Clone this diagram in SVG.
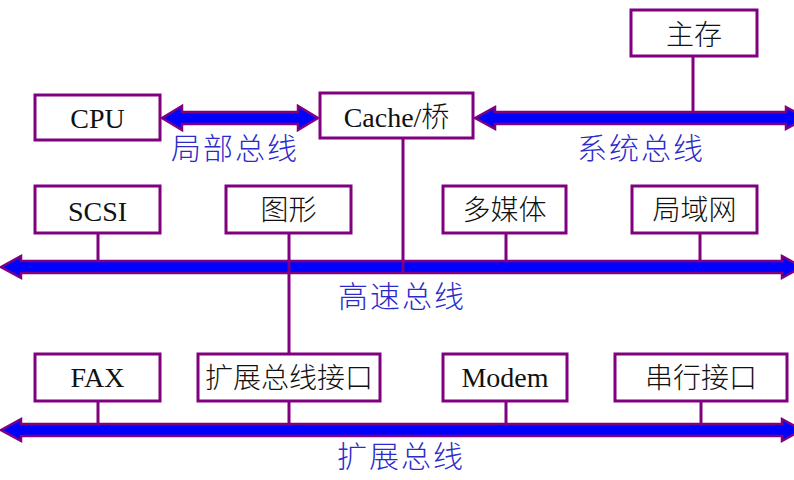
<svg xmlns="http://www.w3.org/2000/svg" width="794" height="480" viewBox="0 0 794 480">
<style>
.box{fill:#fff;stroke:#800080;stroke-width:3}
.t{font-family:"Liberation Serif","Noto Sans CJK SC",serif;font-size:28px;font-weight:300;fill:#111;text-anchor:middle}
.bus{fill:#0000ff;stroke:#800080;stroke-width:2.5;stroke-linejoin:miter}
.ln{stroke:#800080;stroke-width:3;fill:none}
.lbl{font-family:"Noto Sans CJK SC","Noto Sans",sans-serif;font-size:30px;font-weight:300;fill:#2b2bcc;text-anchor:middle;letter-spacing:2px}
</style>
<rect width="794" height="480" fill="#fff"/>
<g id="connectors">
<polygon class="bus" points="162,118 182,106 182,112 298,112 298,106 318,118 298,130 298,124 182,124 182,130"/>
<polygon class="bus" points="475,118 495,107 495,112 786,112 786,107 806,118 786,129 786,124 495,124 495,129"/>
<polygon class="bus" points="1,267 21,256 21,261 782,261 782,256 802,267 782,278 782,273 21,273 21,278"/>
<polygon class="bus" points="1,430 21,419 21,424 782,424 782,419 802,430 782,441 782,436 21,436 21,441"/>
<line class="ln" x1="693" y1="56" x2="693" y2="112"/>
<line class="ln" x1="403" y1="138" x2="403" y2="273"/>
<line class="ln" x1="98" y1="233" x2="98" y2="261"/>
<line class="ln" x1="289" y1="233" x2="289" y2="354"/>
<line class="ln" x1="506" y1="233" x2="506" y2="261"/>
<line class="ln" x1="700" y1="233" x2="700" y2="261"/>
<line class="ln" x1="98" y1="401" x2="98" y2="424"/>
<line class="ln" x1="289" y1="401" x2="289" y2="424"/>
<line class="ln" x1="506" y1="401" x2="506" y2="424"/>
<line class="ln" x1="701" y1="401" x2="701" y2="424"/>
<text class="lbl" x="235" y="159">局部总线</text>
<text class="lbl" x="641" y="159">系统总线</text>
<text class="lbl" x="402" y="307">高速总线</text>
<text class="lbl" x="401" y="467">扩展总线</text>
</g>
<g id="cpu"><rect class="box" x="35" y="95" width="125" height="45"/><text class="t" x="97.5" y="128">CPU</text></g>
<g id="cache"><rect class="box" x="320" y="93" width="153" height="45"/><text class="t" x="396.5" y="127">Cache/桥</text></g>
<g id="mem"><rect class="box" x="631" y="10" width="126" height="46"/><text class="t" x="694" y="45">主存</text></g>
<g id="scsi"><rect class="box" x="35" y="186" width="125" height="47"/><text class="t" x="97.5" y="221">SCSI</text></g>
<g id="graphics"><rect class="box" x="226" y="186" width="125" height="47"/><text class="t" x="288.5" y="220">图形</text></g>
<g id="multimedia"><rect class="box" x="443" y="186" width="123" height="47"/><text class="t" x="504.5" y="220">多媒体</text></g>
<g id="lan"><rect class="box" x="632" y="186" width="125" height="47"/><text class="t" x="694.5" y="220">局域网</text></g>
<g id="fax"><rect class="box" x="35" y="354" width="125" height="47"/><text class="t" x="97.5" y="387">FAX</text></g>
<g id="ext-if"><rect class="box" x="198" y="354" width="182" height="47"/><text class="t" x="289" y="388">扩展总线接口</text></g>
<g id="modem"><rect class="box" x="443" y="354" width="124" height="47"/><text class="t" x="505" y="387">Modem</text></g>
<g id="serial"><rect class="box" x="615" y="354" width="172" height="47"/><text class="t" x="701" y="388">串行接口</text></g>
</svg>
